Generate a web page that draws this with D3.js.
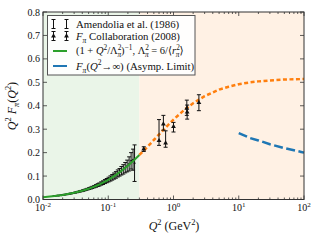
<!DOCTYPE html>
<html>
<head>
<meta charset="utf-8">
<script src="https://cdn.jsdelivr.net/npm/d3@7"></script>
<style>
  body { margin: 0; background: #fff; }
  svg text { font-family: "Liberation Serif", "DejaVu Serif", serif; fill: #111; }
</style>
</head>
<body>
<div id="chart"></div>
<script>
// Amendolia et al. (1986): Q^2 (GeV^2), Q^2 F_pi, error
var amendQ = [0.015, 0.017, 0.019, 0.021, 0.023, 0.025, 0.027, 0.029, 0.031, 0.033,
              0.035, 0.037, 0.039, 0.041, 0.043, 0.045, 0.048, 0.051, 0.054, 0.057,
              0.061, 0.065, 0.069, 0.073, 0.078, 0.083, 0.089, 0.095, 0.101, 0.108,
              0.115, 0.123, 0.131, 0.140, 0.149, 0.159, 0.170, 0.182, 0.195, 0.209,
              0.224, 0.240, 0.253];
var amendV = [0.0146, 0.0166, 0.0182, 0.0204, 0.0219, 0.0241, 0.0258, 0.0273, 0.0295, 0.0311,
              0.0330, 0.0347, 0.0362, 0.0383, 0.0398, 0.0417, 0.0441, 0.0468, 0.0490, 0.0517,
              0.0549, 0.0580, 0.0613, 0.0640, 0.0683, 0.0718, 0.0765, 0.0806, 0.0851, 0.0897,
              0.0948, 0.1000, 0.1049, 0.1112, 0.1160, 0.1226, 0.1285, 0.1358, 0.1430, 0.1520,
              0.1650, 0.1700, 0.1550];
var amendE = [0.0012, 0.0012, 0.0013, 0.0014, 0.0015, 0.0016, 0.0017, 0.0018, 0.0020, 0.0021,
              0.0023, 0.0024, 0.0026, 0.0028, 0.0030, 0.0032, 0.0035, 0.0038, 0.0041, 0.0045,
              0.0050, 0.0055, 0.0060, 0.0065, 0.0070, 0.0078, 0.0085, 0.0090, 0.0100, 0.0110,
              0.0120, 0.0130, 0.0140, 0.0150, 0.0160, 0.0180, 0.0200, 0.0220, 0.0250, 0.0300,
              0.0350, 0.0450, 0.0780];

// F_pi Collaboration (2008)
var fpiQ  = [0.35, 0.60, 0.70, 0.757, 1.00, 1.60, 1.62, 2.45];
var fpiV  = [0.215, 0.251, 0.322, 0.241, 0.311, 0.389, 0.373, 0.413];
var fpiLo = [0.010, 0.020, 0.026, 0.018, 0.023, 0.030, 0.030, 0.034];
var fpiHi = [0.010, 0.090, 0.037, 0.052, 0.018, 0.035, 0.030, 0.034];

// monopole fit (green, data region)
var monoQ = [0.01, 0.015, 0.02, 0.03, 0.04, 0.05, 0.07, 0.1, 0.13, 0.16, 0.2, 0.25, 0.3];
var monoV = [0.0098, 0.0146, 0.0193, 0.0284, 0.0371, 0.0456, 0.0617, 0.0838, 0.1039, 0.1224, 0.1442, 0.1685, 0.1898];
// monopole extrapolation (orange dashed)
var extQ = [0.3, 0.4, 0.5, 0.7, 1, 1.5, 2, 3, 5, 7, 10, 15, 20, 30, 50, 70, 100];
var extV = [0.190, 0.225, 0.254, 0.297, 0.341, 0.385, 0.411, 0.441, 0.469, 0.481, 0.492, 0.500, 0.504, 0.508, 0.512, 0.513, 0.514];
// asymptotic pQCD limit (blue dashed)
var asymQ = [10, 15, 20, 30, 50, 70, 100];
var asymV = [0.283, 0.262, 0.252, 0.236, 0.219, 0.210, 0.200];

var yTicks = [0, 0.1, 0.2, 0.3, 0.4, 0.5, 0.6, 0.7, 0.8];
var xTicks = [0.01, 0.1, 1, 10, 100];
var xTickExp = ["-2", "-1", "0", "1", "2"];
var boundary = 0.3;

var W = 320, H = 240;
var pLeft = 43, pRight = 304, pTop = 12, pBottom = 199.5;

var svg = d3.select("#chart").append("svg")
    .attr("width", W).attr("height", H);

var x = d3.scaleLog().domain([0.01, 100]).range([pLeft, pRight]);
var y = d3.scaleLinear().domain([0, 0.8]).range([pBottom, pTop]);

// shaded regions
svg.append("rect")
    .attr("x", x(0.01)).attr("y", pTop)
    .attr("width", x(boundary) - x(0.01)).attr("height", pBottom - pTop)
    .attr("fill", "#eaf5e8");
svg.append("rect")
    .attr("x", x(boundary)).attr("y", pTop)
    .attr("width", x(100) - x(boundary)).attr("height", pBottom - pTop)
    .attr("fill", "#fff1e4");

// ticks (inward, all four sides)
var minor = [];
[0.01, 0.1, 1, 10].forEach(function(d) {
    for (var k = 2; k < 10; k++) minor.push(d * k);
});
var axG = svg.append("g").attr("stroke", "#333").attr("stroke-width", 0.8);
xTicks.forEach(function(d) {
    axG.append("line").attr("x1", x(d)).attr("x2", x(d)).attr("y1", pBottom).attr("y2", pBottom - 4);
    axG.append("line").attr("x1", x(d)).attr("x2", x(d)).attr("y1", pTop).attr("y2", pTop + 4);
});
minor.forEach(function(d) {
    axG.append("line").attr("x1", x(d)).attr("x2", x(d)).attr("y1", pBottom).attr("y2", pBottom - 2);
    axG.append("line").attr("x1", x(d)).attr("x2", x(d)).attr("y1", pTop).attr("y2", pTop + 2);
});
yTicks.forEach(function(d) {
    axG.append("line").attr("x1", pLeft).attr("x2", pLeft + 4).attr("y1", y(d)).attr("y2", y(d));
    axG.append("line").attr("x1", pRight).attr("x2", pRight - 4).attr("y1", y(d)).attr("y2", y(d));
});

// tick labels
svg.selectAll(".ylab").data(yTicks).enter().append("text")
    .attr("x", pLeft - 3).attr("y", d => y(d) + 3.5)
    .attr("text-anchor", "end").attr("font-size", 10)
    .text(d => d.toFixed(1));

xTicks.forEach(function(d, i) {
    var t = svg.append("text").attr("x", x(d)).attr("y", 211)
        .attr("text-anchor", "middle").attr("font-size", 10);
    t.append("tspan").text("10");
    t.append("tspan").attr("dy", -4).attr("font-size", 7).text(xTickExp[i]);
});

// rich text helper
function rich(sel, parts, fs) {
    var cur = 0;
    parts.forEach(function(p) {
        var o = p[1] || {};
        var off = o.sup ? -0.38 * fs : o.sub ? 0.28 * fs : 0;
        var ts = sel.append("tspan").attr("dy", off - cur).text(p[0]);
        cur = off;
        if (o.sup || o.sub) ts.attr("font-size", fs * 0.7);
        if (o.i) ts.attr("font-style", "italic");
        if (o.dx) ts.attr("dx", o.dx);
    });
}

// axis labels
var xl = svg.append("text").attr("x", 174).attr("y", 230)
    .attr("text-anchor", "middle").attr("font-size", 12);
rich(xl, [["Q", {i: true}], ["2", {sup: true}], [" (GeV"], ["2", {sup: true}], [")"]], 12);

var yl = svg.append("text").attr("transform", "translate(16,106) rotate(-90)")
    .attr("text-anchor", "middle").attr("font-size", 12);
rich(yl, [["Q", {i: true}], ["2", {sup: true}], [" F", {i: true}], ["π", {sub: true, i: true}],
          ["(", {}], ["Q", {i: true}], ["2", {sup: true}], [")"]], 12);

// curves
var line = d3.line().x(d => x(d[0])).y(d => y(d[1]));
svg.append("path").datum(d3.zip(extQ, extV)).attr("d", line)
    .attr("fill", "none").attr("stroke", "#ff7f0e").attr("stroke-width", 2.5)
    .attr("stroke-dasharray", "4,2.5");
svg.append("path").datum(d3.zip(asymQ, asymV)).attr("d", line)
    .attr("fill", "none").attr("stroke", "#1f77b4").attr("stroke-width", 2.5)
    .attr("stroke-dasharray", "9,3.5");

// Amendolia error bars
var am = svg.append("g").attr("stroke", "#111").attr("stroke-width", 1);
amendQ.forEach(function(q, i) {
    var cx = x(q), y0 = y(amendV[i] - amendE[i]), y1 = y(amendV[i] + amendE[i]);
    am.append("line").attr("x1", cx).attr("x2", cx).attr("y1", y0).attr("y2", y1);
    am.append("line").attr("x1", cx - 2).attr("x2", cx + 2).attr("y1", y0).attr("y2", y0);
    am.append("line").attr("x1", cx - 2).attr("x2", cx + 2).attr("y1", y1).attr("y2", y1);
    am.append("circle").attr("cx", cx).attr("cy", y(amendV[i])).attr("r", 1).attr("fill", "#111").attr("stroke", "none");
});

svg.append("path").datum(d3.zip(monoQ, monoV)).attr("d", line)
    .attr("fill", "none").attr("stroke", "#2ca02c").attr("stroke-width", 2);

// F_pi error bars
var tri = d3.symbol().type(d3.symbolTriangle).size(10);
var fp = svg.append("g").attr("stroke", "#111").attr("stroke-width", 1);
fpiQ.forEach(function(q, i) {
    var cx = x(q), y0 = y(fpiV[i] - fpiLo[i]), y1 = y(fpiV[i] + fpiHi[i]);
    fp.append("line").attr("x1", cx).attr("x2", cx).attr("y1", y0).attr("y2", y1);
    fp.append("line").attr("x1", cx - 2).attr("x2", cx + 2).attr("y1", y0).attr("y2", y0);
    fp.append("line").attr("x1", cx - 2).attr("x2", cx + 2).attr("y1", y1).attr("y2", y1);
    fp.append("path").attr("d", tri).attr("transform", `translate(${cx},${y(fpiV[i])})`)
        .attr("fill", "#111").attr("stroke", "none");
});

// frame
svg.append("rect").attr("x", pLeft).attr("y", pTop)
    .attr("width", pRight - pLeft).attr("height", pBottom - pTop)
    .attr("fill", "none").attr("stroke", "#333").attr("stroke-width", 1);

// legend
var lg = svg.append("g");
lg.append("rect").attr("x", 47.5).attr("y", 15.5).attr("width", 147.5).attr("height", 59.5)
    .attr("fill", "#fff").attr("fill-opacity", 0.9).attr("stroke", "#555").attr("stroke-width", 1);
var rows = [24, 36, 51, 66];
function legBar(cx, cy, withTri) {
    lg.append("line").attr("x1", cx).attr("x2", cx).attr("y1", cy - 4.5).attr("y2", cy + 4.5).attr("stroke", "#111");
    lg.append("line").attr("x1", cx - 2).attr("x2", cx + 2).attr("y1", cy - 4.5).attr("y2", cy - 4.5).attr("stroke", "#111");
    lg.append("line").attr("x1", cx - 2).attr("x2", cx + 2).attr("y1", cy + 4.5).attr("y2", cy + 4.5).attr("stroke", "#111");
    if (withTri) lg.append("path").attr("d", tri).attr("transform", `translate(${cx},${cy})`).attr("fill", "#111");
}
[53.5, 66.5].forEach(function(cx) { legBar(cx, rows[0], false); legBar(cx, rows[1], true); });
lg.append("line").attr("x1", 53).attr("x2", 67).attr("y1", rows[2]).attr("y2", rows[2])
    .attr("stroke", "#2ca02c").attr("stroke-width", 2);
lg.append("line").attr("x1", 53).attr("x2", 67).attr("y1", rows[3]).attr("y2", rows[3])
    .attr("stroke", "#1f77b4").attr("stroke-width", 2);

var fs = 10.8;
var t0 = lg.append("text").attr("x", 76).attr("y", rows[0] + 3.5).attr("font-size", fs);
rich(t0, [["Amendolia et al. (1986)"]], fs);
var t1 = lg.append("text").attr("x", 76).attr("y", rows[1] + 3.5).attr("font-size", fs);
rich(t1, [["F", {i: true}], ["π", {sub: true, i: true}], [" Collaboration (2008)"]], fs);
var t2 = lg.append("text").attr("x", 76).attr("y", rows[2] + 3).attr("font-size", 10.5);
rich(t2, [["(1 + "], ["Q", {i: true}], ["2", {sup: true}], ["/Λ"], ["2", {sup: true}], ["π", {sub: true, i: true, dx: -4}],
          [")"], ["−1", {sup: true}], [", Λ"], ["2", {sup: true}], ["π", {sub: true, i: true, dx: -4}],
          [" = 6/⟨"], ["r", {i: true}], ["2", {sup: true}], ["π", {sub: true, i: true, dx: -4}], ["⟩"]], 10.5);
var t3 = lg.append("text").attr("x", 76).attr("y", rows[3] + 3.5).attr("font-size", fs);
rich(t3, [["F", {i: true}], ["π", {sub: true, i: true}], ["(", {}], ["Q", {i: true}], ["2", {sup: true}],
          ["→∞) (Asymp. Limit)"]], fs);
</script>
</body>
</html>
